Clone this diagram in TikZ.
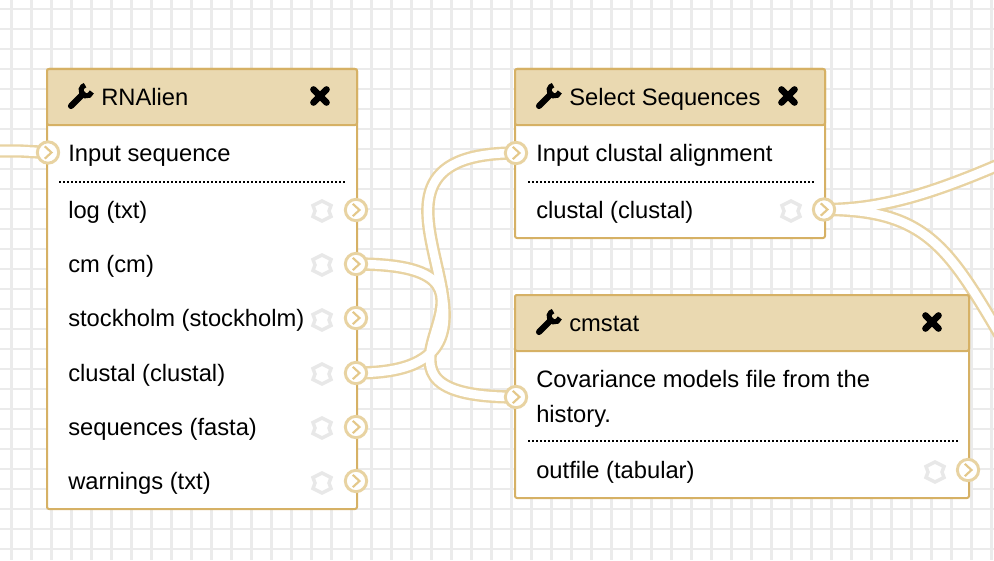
\documentclass[tikz,border=0pt]{standalone}
\usepackage{fontspec}
\setmainfont{Liberation Sans}
\pgfdeclarelayer{back}
\pgfdeclarelayer{wires}
\pgfsetlayers{back,wires,main}
\definecolor{toolborder}{HTML}{D6B165}
\definecolor{toolhead}{HTML}{EAD9B1}
\definecolor{wireedge}{HTML}{E8D3A2}
\definecolor{chevron}{HTML}{E4C88A}
\definecolor{gridgray}{HTML}{EBEBEB}
\definecolor{hexgray}{HTML}{E8E8E8}
\tikzset{
  gridline/.style={gridgray,line width=1.9pt},
  wire/.style={draw=wireedge,line width=1.8pt,double=white,double distance=6.4pt},
  toolbody/.style={draw=toolborder,fill=white,line width=1.5pt,rounded corners=1.5pt},
  toolbar/.style={draw=toolborder,fill=toolhead,line width=1.5pt,rounded corners=1.5pt},
  sepline/.style={line width=1.5pt,dash pattern=on 1.5pt off 1.5pt},
  label/.style={anchor=base west,inner sep=0pt,font=\fontsize{17.8pt}{20pt}\selectfont},
  terminal/.style={circle,draw=wireedge,fill=white,line width=2.2pt,minimum size=16pt,inner sep=0pt,
    path picture={\draw[chevron,line width=1.6pt]
      ([shift={(-2.4pt,4.6pt)}]path picture bounding box.center) --
      ([shift={(2.6pt,0pt)}]path picture bounding box.center) --
      ([shift={(-2.4pt,-4.6pt)}]path picture bounding box.center);}},
  wrench/.pic={
    \draw[line width=4.6pt,line cap=round] (-10,10) -- (2,-2);
    \draw[line width=3.8pt] (5.5,-5.5) ++(15:5.5) arc[start angle=15,end angle=255,radius=5.5];
  },
  closemark/.pic={
    \draw[line width=5pt,line cap=round] (-6.5,-6.5) -- (6.5,6.5) (-6.5,6.5) -- (6.5,-6.5);
  },
  hexmark/.pic={
    \draw[hexgray,line width=2.6pt] (0,-10) -- (9,-5.5) -- (7,0) -- (9,5.5) -- (0,10) -- (-9,5.5) -- (-7,0) -- (-9,-5.5) -- cycle;
  }
}

\begin{document}
\begin{tikzpicture}[x=0.75pt,y=-0.75pt]
\useasboundingbox (0,0) rectangle (994,560);
\begin{pgfonlayer}{back}
\draw[gridline] (0,9) -- (994,9);
\draw[gridline] (11.5,0) -- (11.5,560);
\draw[gridline] (0,29) -- (994,29);
\draw[gridline] (31.5,0) -- (31.5,560);
\draw[gridline] (0,49) -- (994,49);
\draw[gridline] (51.5,0) -- (51.5,560);
\draw[gridline] (0,69) -- (994,69);
\draw[gridline] (71.5,0) -- (71.5,560);
\draw[gridline] (0,89) -- (994,89);
\draw[gridline] (91.5,0) -- (91.5,560);
\draw[gridline] (0,109) -- (994,109);
\draw[gridline] (111.5,0) -- (111.5,560);
\draw[gridline] (0,129) -- (994,129);
\draw[gridline] (131.5,0) -- (131.5,560);
\draw[gridline] (0,149) -- (994,149);
\draw[gridline] (151.5,0) -- (151.5,560);
\draw[gridline] (0,169) -- (994,169);
\draw[gridline] (171.5,0) -- (171.5,560);
\draw[gridline] (0,189) -- (994,189);
\draw[gridline] (191.5,0) -- (191.5,560);
\draw[gridline] (0,209) -- (994,209);
\draw[gridline] (211.5,0) -- (211.5,560);
\draw[gridline] (0,229) -- (994,229);
\draw[gridline] (231.5,0) -- (231.5,560);
\draw[gridline] (0,249) -- (994,249);
\draw[gridline] (251.5,0) -- (251.5,560);
\draw[gridline] (0,269) -- (994,269);
\draw[gridline] (271.5,0) -- (271.5,560);
\draw[gridline] (0,289) -- (994,289);
\draw[gridline] (291.5,0) -- (291.5,560);
\draw[gridline] (0,309) -- (994,309);
\draw[gridline] (311.5,0) -- (311.5,560);
\draw[gridline] (0,329) -- (994,329);
\draw[gridline] (331.5,0) -- (331.5,560);
\draw[gridline] (0,349) -- (994,349);
\draw[gridline] (351.5,0) -- (351.5,560);
\draw[gridline] (0,369) -- (994,369);
\draw[gridline] (371.5,0) -- (371.5,560);
\draw[gridline] (0,389) -- (994,389);
\draw[gridline] (391.5,0) -- (391.5,560);
\draw[gridline] (0,409) -- (994,409);
\draw[gridline] (411.5,0) -- (411.5,560);
\draw[gridline] (0,429) -- (994,429);
\draw[gridline] (431.5,0) -- (431.5,560);
\draw[gridline] (0,449) -- (994,449);
\draw[gridline] (451.5,0) -- (451.5,560);
\draw[gridline] (0,469) -- (994,469);
\draw[gridline] (471.5,0) -- (471.5,560);
\draw[gridline] (0,489) -- (994,489);
\draw[gridline] (491.5,0) -- (491.5,560);
\draw[gridline] (0,509) -- (994,509);
\draw[gridline] (511.5,0) -- (511.5,560);
\draw[gridline] (0,529) -- (994,529);
\draw[gridline] (531.5,0) -- (531.5,560);
\draw[gridline] (0,549) -- (994,549);
\draw[gridline] (551.5,0) -- (551.5,560);
\draw[gridline] (571.5,0) -- (571.5,560);
\draw[gridline] (591.5,0) -- (591.5,560);
\draw[gridline] (611.5,0) -- (611.5,560);
\draw[gridline] (631.5,0) -- (631.5,560);
\draw[gridline] (651.5,0) -- (651.5,560);
\draw[gridline] (671.5,0) -- (671.5,560);
\draw[gridline] (691.5,0) -- (691.5,560);
\draw[gridline] (711.5,0) -- (711.5,560);
\draw[gridline] (731.5,0) -- (731.5,560);
\draw[gridline] (751.5,0) -- (751.5,560);
\draw[gridline] (771.5,0) -- (771.5,560);
\draw[gridline] (791.5,0) -- (791.5,560);
\draw[gridline] (811.5,0) -- (811.5,560);
\draw[gridline] (831.5,0) -- (831.5,560);
\draw[gridline] (851.5,0) -- (851.5,560);
\draw[gridline] (871.5,0) -- (871.5,560);
\draw[gridline] (891.5,0) -- (891.5,560);
\draw[gridline] (911.5,0) -- (911.5,560);
\draw[gridline] (931.5,0) -- (931.5,560);
\draw[gridline] (951.5,0) -- (951.5,560);
\draw[gridline] (971.5,0) -- (971.5,560);
\draw[gridline] (991.5,0) -- (991.5,560);
\end{pgfonlayer}

\draw[toolbody] (47,69) rectangle (357,509);
\draw[toolbar] (47,125) -- (47,69) -- (357,69) -- (357,125) -- cycle;
\draw[sepline] (59,182) -- (347,182);
\draw[toolbody] (515,69) rectangle (825,238);
\draw[toolbar] (515,125) -- (515,69) -- (825,69) -- (825,125) -- cycle;
\draw[sepline] (528,182) -- (814,182);
\draw[toolbody] (515,295) rectangle (969,498);
\draw[toolbar] (515,351) -- (515,295) -- (969,295) -- (969,351) -- cycle;
\draw[sepline] (528,441) -- (958,441);

\pic at (81,96) {wrench};
\pic at (549,96) {wrench};
\pic at (549,322) {wrench};
\pic at (320,96) {closemark};
\pic at (788,96) {closemark};
\pic at (932,322) {closemark};
\pic at (322,211) {hexmark};
\pic at (322,265) {hexmark};
\pic at (322,320) {hexmark};
\pic at (322,374) {hexmark};
\pic at (322,428) {hexmark};
\pic at (322,483) {hexmark};
\pic at (791,211) {hexmark};
\pic at (935,472) {hexmark};

\node[label] (rnaliantitle) at (101,105) {RNAlien};
\node[label] (seqin) at (68,161) {Input sequence};
\node[label] (logout) at (68,218) {log (txt)};
\node[label] (cmout) at (68,272) {cm (cm)};
\node[label] (stoout) at (68,326) {stockholm (stockholm)};
\node[label] (cluout) at (68,381) {clustal (clustal)};
\node[label] (fasout) at (68,435) {sequences (fasta)};
\node[label] (warnout) at (68,489) {warnings (txt)};
\node[label] (selecttitle) at (569,105) {Select Sequences};
\node[label] (alignin) at (536,161) {Input clustal alignment};
\node[label] (selectout) at (536,218) {clustal (clustal)};
\node[label] (cmstattitle) at (569,331) {cmstat};
\node[label] (covin) at (536,387) {Covariance models file from the};
\node[label] (covinb) at (536,422) {history.};
\node[label] (tabout) at (536,478) {outfile (tabular)};

\node[terminal] (seqinterm) at (48,152.5) {};
\node[terminal] (logterm) at (356,210) {};
\node[terminal] (cmterm) at (356,264) {};
\node[terminal] (stoterm) at (356,318) {};
\node[terminal] (cluterm) at (356,373) {};
\node[terminal] (fasterm) at (356,427) {};
\node[terminal] (warnterm) at (356,481) {};
\node[terminal] (aligninterm) at (516,153) {};
\node[terminal] (selectterm) at (824,209.5) {};
\node[terminal] (covinterm) at (516,397) {};
\node[terminal] (tabterm) at (968,470) {};

\coordinate (leftend) at (-10,151);
\coordinate (rightup) at (1010,160);
\coordinate (rightdown) at (1010,352);

\begin{pgfonlayer}{wires}
\clip (0,0) rectangle (994,560);
\draw[wire]
  (leftend) -- (20,151) -- (seqinterm.center)
  (cluterm.center) .. controls (566,373) and (306,153) .. (aligninterm.center)
  (cmterm.center) .. controls (556,264) and (316,397) .. (covinterm.center)
  (selectterm.center) .. controls (880,209.5) and (930,195) .. (rightup)
  (selectterm.center) .. controls (930,209.5) and (950,250) .. (rightdown);
\end{pgfonlayer}
\end{tikzpicture}
\end{document}
